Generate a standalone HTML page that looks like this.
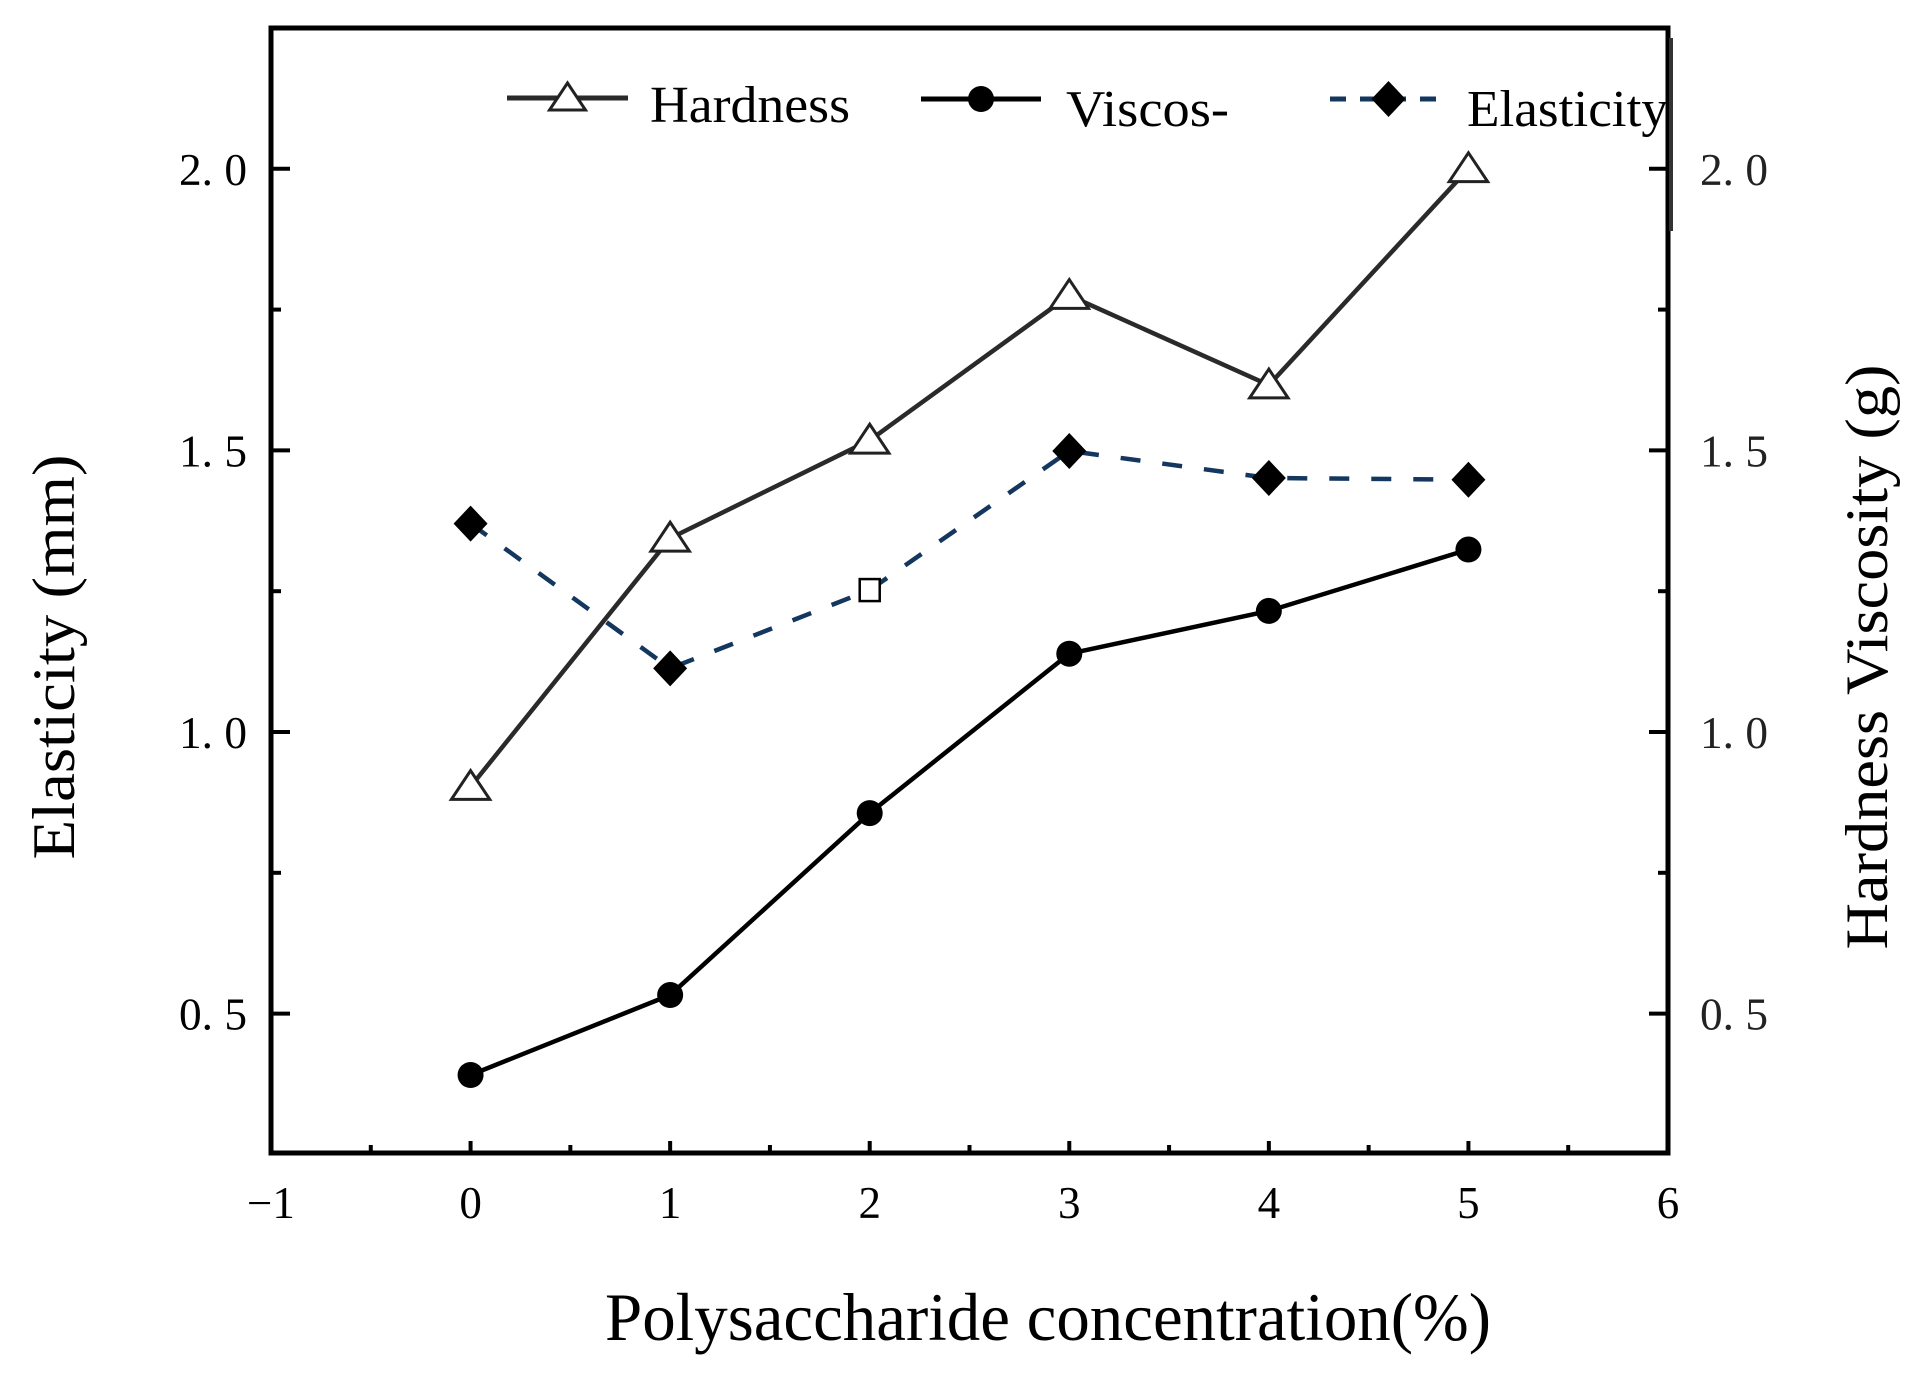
<!DOCTYPE html>
<html><head><meta charset="utf-8"><style>html,body{margin:0;padding:0;background:#fff}svg{display:block}</style></head>
<body>
<svg id="chart" width="1921" height="1375" viewBox="0 0 1921 1375" xmlns="http://www.w3.org/2000/svg" font-family="'Liberation Serif', serif">
<g id="axes"></g>
<g id="series"></g>
<g id="legend"></g>
<text x="1048" y="1340" font-size="68" text-anchor="middle" textLength="886" lengthAdjust="spacingAndGlyphs">Polysaccharide concentration(%)</text>
<text transform="translate(74,657) rotate(-90)" font-size="60" text-anchor="middle" textLength="405" lengthAdjust="spacingAndGlyphs">Elasticity (mm)</text>
<text transform="translate(1887,657) rotate(-90)" font-size="60" text-anchor="middle" textLength="585" lengthAdjust="spacingAndGlyphs">Hardness Viscosity (g)</text>
</svg>
<script>
const categories = [0, 1, 2, 3, 4, 5];
const hardness = [0.903, 1.344, 1.518, 1.775, 1.616, 2.0];
const viscosity = [0.391, 0.533, 0.856, 1.139, 1.215, 1.324];
const elasticity = [1.37, 1.113, 1.252, 1.499, 1.451, 1.448];
const xTicks = [-1, 0, 1, 2, 3, 4, 5, 6];
const xTickLabels = ['\u22121', '0', '1', '2', '3', '4', '5', '6'];
const yTicks = [0.5, 1.0, 1.5, 2.0];
const yTickLabels = ['0. 5', '1. 0', '1. 5', '2. 0'];

const L = 271, R = 1668, T = 28, B = 1153;
const xMin = -1, xMax = 6, yMin = 0.2525, yMax = 2.25;
function xs(v) { return L + (v - xMin) / (xMax - xMin) * (R - L); }
function ys(v) { return B - (v - yMin) / (yMax - yMin) * (B - T); }
const NS = 'http://www.w3.org/2000/svg';
function mk(tag, attrs, parent) {
  const e = document.createElementNS(NS, tag);
  for (const k in attrs) e.setAttribute(k, attrs[k]);
  parent.appendChild(e);
  return e;
}
const axes = document.getElementById('axes');
const series = document.getElementById('series');
const legend = document.getElementById('legend');

let frame = mk('rect', {x: L, y: T, width: R - L, height: B - T, fill: 'none', stroke: '#000', 'stroke-width': 5}, axes);


let extra = mk('line', {x1: R + 3, y1: 38, x2: R + 3, y2: 231, stroke: '#333', 'stroke-width': 4}, axes);



xTicks.forEach((v, i) => {
  const x = xs(v);
  let t = mk('line', {x1: x, y1: B, x2: x, y2: B - 12, stroke: '#000', 'stroke-width': 4}, axes);
  
  
  if (i < xTicks.length - 1) {
    const xm = xs(v + 0.5);
    let m = mk('line', {x1: xm, y1: B, x2: xm, y2: B - 8, stroke: '#000', 'stroke-width': 4}, axes);
    
    
  }
  let lb = mk('text', {x: x, y: 1218, 'font-size': 45, 'text-anchor': 'middle'}, axes);
  lb.textContent = xTickLabels[i];
  
  
});
yTicks.forEach((v, i) => {
  const y = ys(v);
  [[L, L + 19], [R, R - 19]].forEach(p => {
    let t = mk('line', {x1: p[0], y1: y, x2: p[1], y2: y, stroke: '#000', 'stroke-width': 4}, axes);
    
    
  });
  [[L, L + 10], [R, R - 10]].forEach(p => {
    const ym = ys(v + 0.25);
    let m = mk('line', {x1: p[0], y1: ym, x2: p[1], y2: ym, stroke: '#000', 'stroke-width': 4}, axes);
    
    
  });
  let a = mk('text', {x: 247, y: y + 16, 'font-size': 45, 'text-anchor': 'end', textLength: 68, lengthAdjust: 'spacingAndGlyphs'}, axes);
  a.textContent = yTickLabels[i];
  
  
  let b = mk('text', {x: 1700, y: y + 16, 'font-size': 45, 'text-anchor': 'start', fill: '#222', textLength: 68, lengthAdjust: 'spacingAndGlyphs'}, axes);
  b.textContent = yTickLabels[i];
  
  
});

function tri(g, x, y, s) {
  return mk('polygon', {points: `${x},${y - s} ${x - s * 1.2},${y + s * 0.8} ${x + s * 1.2},${y + s * 0.8}`, fill: '#fff', stroke: '#222', 'stroke-width': 3}, g);
}
function dot(g, x, y) { return mk('circle', {cx: x, cy: y, r: 13, fill: '#000'}, g); }
function dia(g, x, y) { return mk('polygon', {points: `${x},${y - 18} ${x + 17},${y} ${x},${y + 18} ${x - 17},${y}`, fill: '#000'}, g); }

function drawSeries(vals, name, stroke, dash, marker) {
  const g = mk('g', {}, series);
  
  
  const pts = vals.map((v, i) => xs(categories[i]) + ',' + ys(v)).join(' ');
  const pl = mk('polyline', {points: pts, fill: 'none', stroke: stroke, 'stroke-width': 4.5, 'stroke-dasharray': dash}, g);
  
  
  vals.forEach((v, i) => {
    const x = xs(categories[i]), y = ys(v);
    let m;
    if (marker === 'tri') m = tri(g, x, y, 16);
    else if (marker === 'dot') m = dot(g, x, y);
    else if (i === 2) m = mk('rect', {x: x - 10, y: y - 11, width: 20, height: 22, fill: '#fff', stroke: '#000', 'stroke-width': 2.5}, g);
    else m = dia(g, x, y);
    
    
  });
}
drawSeries(hardness, 'hardness', '#2a2a2a', 'none', 'tri');
drawSeries(viscosity, 'viscosity', '#000', 'none', 'dot');
drawSeries(elasticity, 'elasticity', '#14375f', '20,22', 'dia');

function legendEntry(name, x1, x2, y, stroke, dash, marker, label, tx, ty, tl) {
  const g = mk('g', {}, legend);
  
  
  mk('line', {x1: x1, y1: y, x2: x2, y2: y, stroke: stroke, 'stroke-width': 5, 'stroke-dasharray': dash}, g);
  const mx = (x1 + x2) / 2;
  if (marker === 'tri') tri(g, mx, y, 15);
  else if (marker === 'dot') dot(g, mx, y);
  else dia(g, mx, y);
  const t = mk('text', {x: tx, y: ty, 'font-size': 52, textLength: tl, lengthAdjust: 'spacingAndGlyphs'}, g);
  t.textContent = label;
}
legendEntry('hardness', 507, 628, 98, '#2a2a2a', 'none', 'tri', 'Hardness', 650, 122, 200);
legendEntry('viscosity', 921, 1041, 99, '#000', 'none', 'dot', 'Viscos-', 1066, 126, 163);
legendEntry('elasticity', 1330, 1447, 99, '#14375f', '16,14', 'dia', 'Elasticity', 1467, 126, 201);
</script>
</body></html>
